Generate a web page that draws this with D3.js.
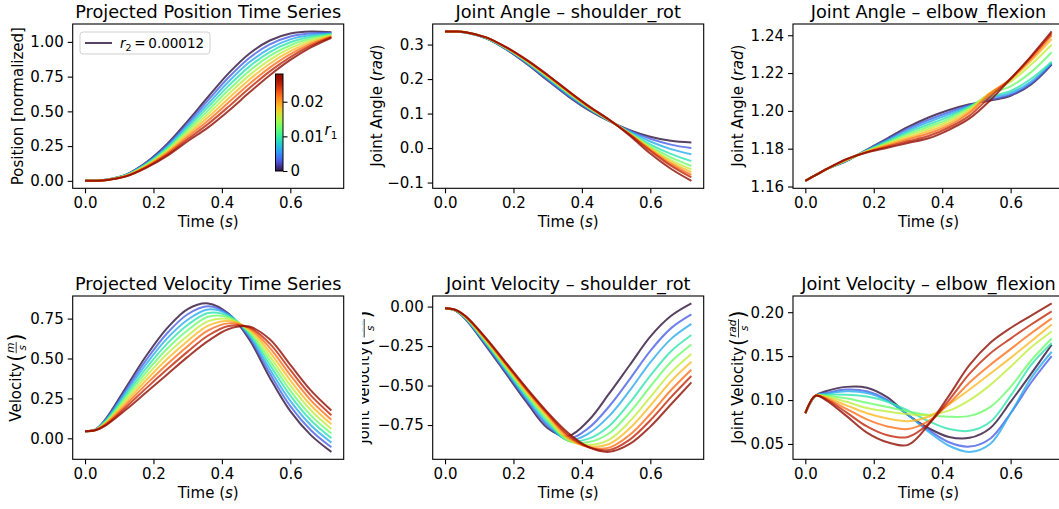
<!DOCTYPE html>
<html><head><meta charset="utf-8">
<script src="https://cdn.jsdelivr.net/npm/d3@7"></script>
<style>body{margin:0;background:#fff}svg{display:block;font-family:"DejaVu Sans",sans-serif}</style>
</head><body><svg id="c" width="1059" height="509"></svg>
<script>
// ---------------- data ----------------
const time = [0, 0.03, 0.06, 0.12, 0.18, 0.24, 0.30, 0.36, 0.42, 0.48, 0.54, 0.60, 0.66, 0.72];
const r1Values = [0, 0.00311, 0.00622, 0.00933, 0.01244, 0.01556, 0.01867, 0.02178, 0.02489, 0.028];
const r2Value = "0.00012";

const positionSeries = [
  [0,0.001,0.007,0.045,0.135,0.265,0.430,0.605,0.775,0.915,1.010,1.060,1.075,1.070],
  [0,0.001,0.007,0.044,0.131,0.256,0.414,0.581,0.745,0.884,0.982,1.039,1.062,1.066],
  [0,0.001,0.007,0.042,0.126,0.246,0.398,0.556,0.715,0.853,0.954,1.018,1.049,1.061],
  [0,0.001,0.006,0.041,0.122,0.237,0.382,0.532,0.685,0.822,0.927,0.997,1.037,1.057],
  [0,0.001,0.006,0.039,0.117,0.227,0.366,0.507,0.655,0.791,0.899,0.976,1.024,1.052],
  [0,0.001,0.006,0.038,0.113,0.218,0.349,0.483,0.625,0.759,0.871,0.955,1.011,1.048],
  [0,0.001,0.006,0.036,0.108,0.208,0.333,0.459,0.595,0.728,0.843,0.933,0.998,1.043],
  [0,0.001,0.005,0.035,0.104,0.199,0.317,0.434,0.565,0.697,0.815,0.912,0.985,1.039],
  [0,0.001,0.005,0.033,0.099,0.189,0.301,0.410,0.535,0.666,0.788,0.891,0.973,1.034],
  [0,0.001,0.005,0.032,0.095,0.180,0.285,0.385,0.505,0.635,0.760,0.870,0.960,1.030]
];
const shoulderAngleSeries = [
  [0.338,0.338,0.335,0.318,0.285,0.243,0.196,0.150,0.110,0.078,0.052,0.033,0.021,0.016],
  [0.338,0.338,0.335,0.318,0.286,0.245,0.198,0.152,0.112,0.079,0.050,0.027,0.010,0.000],
  [0.338,0.338,0.335,0.319,0.287,0.247,0.201,0.155,0.114,0.079,0.048,0.019,-0.003,-0.018],
  [0.338,0.338,0.335,0.319,0.288,0.249,0.204,0.158,0.116,0.080,0.045,0.011,-0.017,-0.038],
  [0.338,0.338,0.336,0.320,0.289,0.250,0.206,0.160,0.117,0.080,0.043,0.005,-0.027,-0.052],
  [0.338,0.338,0.336,0.320,0.290,0.251,0.207,0.161,0.118,0.081,0.042,0.001,-0.035,-0.062],
  [0.338,0.338,0.336,0.320,0.290,0.252,0.208,0.162,0.119,0.081,0.041,-0.002,-0.041,-0.070],
  [0.338,0.338,0.336,0.321,0.291,0.253,0.210,0.164,0.120,0.081,0.040,-0.005,-0.046,-0.078],
  [0.338,0.338,0.336,0.321,0.291,0.254,0.211,0.165,0.121,0.082,0.039,-0.008,-0.051,-0.085],
  [0.338,0.338,0.336,0.321,0.292,0.255,0.212,0.166,0.122,0.082,0.036,-0.016,-0.060,-0.095]
];
const elbowAngleSeries = [
  [1.163,1.166,1.169,1.1735,1.1795,1.1855,1.1915,1.1965,1.2005,1.2035,1.2055,1.208,1.214,1.2245],
  [1.163,1.166,1.169,1.1736,1.1793,1.1849,1.1906,1.1953,1.1993,1.2030,1.2060,1.2085,1.2145,1.225],
  [1.163,1.166,1.169,1.1737,1.1792,1.1844,1.1896,1.1941,1.1982,1.2025,1.2068,1.2095,1.2155,1.2255],
  [1.163,1.166,1.169,1.1738,1.1790,1.1838,1.1887,1.1928,1.1970,1.2022,1.2075,1.2105,1.217,1.226],
  [1.163,1.166,1.169,1.1739,1.1788,1.1833,1.1877,1.1916,1.1958,1.2018,1.2090,1.2130,1.2205,1.231],
  [1.163,1.166,1.169,1.1740,1.1787,1.1827,1.1868,1.1904,1.1947,1.2010,1.2095,1.2155,1.2245,1.235],
  [1.163,1.166,1.169,1.1741,1.1785,1.1822,1.1858,1.1892,1.1935,1.2000,1.2095,1.2165,1.2265,1.238],
  [1.163,1.166,1.169,1.1742,1.1783,1.1816,1.1849,1.1880,1.1923,1.1990,1.2090,1.2170,1.2275,1.240],
  [1.163,1.166,1.169,1.1744,1.1782,1.1811,1.1839,1.1867,1.1912,1.1975,1.2075,1.2170,1.2285,1.241],
  [1.163,1.166,1.169,1.1745,1.1780,1.1805,1.1830,1.1855,1.1900,1.1960,1.2055,1.2170,1.229,1.242]
];
const velocitySeries = [
  [0.045,0.055,0.120,0.320,0.520,0.690,0.810,0.845,0.780,0.620,0.380,0.170,0.020,-0.085],
  [0.045,0.054,0.116,0.304,0.494,0.658,0.777,0.827,0.777,0.633,0.407,0.202,0.051,-0.056],
  [0.045,0.054,0.111,0.289,0.469,0.626,0.743,0.807,0.773,0.645,0.433,0.234,0.082,-0.027],
  [0.045,0.053,0.107,0.273,0.443,0.593,0.710,0.785,0.766,0.656,0.460,0.267,0.113,0.001],
  [0.045,0.053,0.102,0.258,0.418,0.561,0.677,0.761,0.758,0.666,0.487,0.299,0.144,0.030],
  [0.045,0.052,0.098,0.242,0.392,0.529,0.643,0.734,0.747,0.674,0.513,0.331,0.176,0.059],
  [0.045,0.052,0.093,0.227,0.367,0.497,0.610,0.706,0.735,0.682,0.540,0.363,0.207,0.088],
  [0.045,0.051,0.089,0.211,0.341,0.464,0.577,0.676,0.720,0.689,0.567,0.396,0.238,0.117],
  [0.045,0.051,0.084,0.196,0.316,0.432,0.543,0.644,0.704,0.695,0.593,0.428,0.269,0.145],
  [0.045,0.050,0.080,0.180,0.290,0.400,0.510,0.610,0.685,0.700,0.620,0.460,0.300,0.174]
];
const shoulderVelSeries = [
  [-0.01,-0.025,-0.080,-0.250,-0.430,-0.610,-0.770,-0.820,-0.720,-0.550,-0.370,-0.190,-0.060,0.020],
  [-0.01,-0.024,-0.077,-0.243,-0.420,-0.597,-0.756,-0.836,-0.768,-0.631,-0.459,-0.280,-0.138,-0.050],
  [-0.01,-0.024,-0.075,-0.237,-0.412,-0.587,-0.744,-0.846,-0.803,-0.692,-0.531,-0.353,-0.206,-0.110],
  [-0.01,-0.023,-0.072,-0.230,-0.402,-0.574,-0.730,-0.850,-0.836,-0.756,-0.608,-0.437,-0.284,-0.180],
  [-0.01,-0.022,-0.070,-0.224,-0.394,-0.563,-0.718,-0.850,-0.858,-0.802,-0.670,-0.506,-0.351,-0.240],
  [-0.01,-0.022,-0.067,-0.218,-0.385,-0.552,-0.706,-0.844,-0.875,-0.842,-0.727,-0.573,-0.418,-0.300],
  [-0.01,-0.021,-0.065,-0.213,-0.378,-0.543,-0.696,-0.836,-0.885,-0.870,-0.771,-0.627,-0.474,-0.350],
  [-0.01,-0.021,-0.063,-0.208,-0.371,-0.534,-0.686,-0.825,-0.890,-0.893,-0.812,-0.680,-0.530,-0.400],
  [-0.01,-0.020,-0.062,-0.204,-0.366,-0.527,-0.678,-0.814,-0.891,-0.908,-0.842,-0.720,-0.575,-0.440],
  [-0.01,-0.020,-0.060,-0.200,-0.360,-0.520,-0.670,-0.800,-0.890,-0.920,-0.870,-0.760,-0.620,-0.480]
];
const elbowVelSeries = [
  [0.085,0.105,0.110,0.115,0.114,0.103,0.083,0.068,0.058,0.057,0.068,0.098,0.130,0.163],
  [0.085,0.105,0.108,0.112,0.110,0.100,0.083,0.066,0.052,0.047,0.056,0.085,0.120,0.150],
  [0.085,0.105,0.107,0.110,0.108,0.099,0.083,0.064,0.048,0.041,0.050,0.085,0.125,0.155],
  [0.085,0.105,0.106,0.106,0.104,0.098,0.088,0.076,0.067,0.065,0.075,0.105,0.140,0.165],
  [0.085,0.105,0.105,0.102,0.097,0.092,0.087,0.083,0.081,0.082,0.092,0.115,0.145,0.170],
  [0.085,0.105,0.104,0.098,0.091,0.087,0.084,0.083,0.088,0.100,0.117,0.138,0.160,0.178],
  [0.085,0.105,0.103,0.094,0.085,0.079,0.076,0.081,0.095,0.112,0.130,0.148,0.167,0.186],
  [0.085,0.105,0.102,0.090,0.078,0.070,0.067,0.076,0.096,0.120,0.140,0.158,0.176,0.193],
  [0.085,0.105,0.101,0.086,0.070,0.060,0.058,0.073,0.100,0.130,0.153,0.170,0.186,0.201],
  [0.085,0.105,0.100,0.082,0.063,0.052,0.049,0.072,0.105,0.140,0.165,0.182,0.196,0.210]
];

const xTicks = [0, 0.2, 0.4, 0.6];
const positionTicks = [0, 0.25, 0.5, 0.75, 1.0];
const shoulderAngleTicks = [-0.1, 0, 0.1, 0.2, 0.3];
const elbowAngleTicks = [1.16, 1.18, 1.20, 1.22, 1.24];
const velocityTicks = [0, 0.25, 0.5, 0.75];
const shoulderVelTicks = [-0.75, -0.5, -0.25, 0];
const elbowVelTicks = [0.05, 0.10, 0.15, 0.20];
const colorbarTicks = [0, 0.01, 0.02];

// ---------------- drawing ----------------
const svg = d3.select("#c");
svg.append("rect").attr("width",1059).attr("height",509).attr("fill","#fff");
const defs = svg.append("defs");
const FS = 15, TFS = 17.7, W = 271;

function turboMpl(t){
  const c0 = 0.08;
  if (t < c0) return d3.interpolateRgb("#30123b", d3.interpolateTurbo(c0))(t/c0);
  return d3.interpolateTurbo(t);
}
const r1Max = d3.max(r1Values);
const color = d3.scaleSequential(turboMpl).domain([0, r1Max]);

const panels = [
  {left:72.7, top:24, h:164.3, series:positionSeries, ticks:positionTicks, fmt:".2f",
   title:"Projected Position Time Series", ylab:{text:"Position [normalized]"}, ylx:18},
  {left:432.7, top:24, h:164.3, series:shoulderAngleSeries, ticks:shoulderAngleTicks, fmt:".1f",
   title:"Joint Angle \u2013 shoulder_rot", ylab:{text:"Joint Angle (", italic:"rad"}, ylx:376.7},
  {left:793, top:24, h:164.3, series:elbowAngleSeries, ticks:elbowAngleTicks, fmt:".2f",
   title:"Joint Angle \u2013 elbow_flexion", ylab:{text:"Joint Angle (", italic:"rad"}, ylx:738.3},
  {left:72.7, top:296, h:163.3, series:velocitySeries, ticks:velocityTicks, fmt:".2f",
   title:"Projected Velocity Time Series", ylab:{text:"Velocity ", frac:["m","s"]}, ylx:16},
  {left:432.7, top:296, h:163.3, series:shoulderVelSeries, ticks:shoulderVelTicks, fmt:".2f",
   title:"Joint Velocity \u2013 shoulder_rot", ylab:{text:"Joint Velocity ", frac:["rad","s"]}, ylx:364, clipX:362},
  {left:793, top:296, h:163.3, series:elbowVelSeries, ticks:elbowVelTicks, fmt:".2f",
   title:"Joint Velocity \u2013 elbow_flexion", ylab:{text:"Joint Velocity ", frac:["rad","s"]}, ylx:738.3}
];

function addYLabel(cx, cy, spec, clipX){
  const outer = svg.append("g");
  if (clipX !== undefined){
    const id = "ylclip" + Math.round(cx);
    defs.append("clipPath").attr("id", id).append("rect")
      .attr("x", clipX).attr("y", 0).attr("width", 2000).attr("height", 600);
    outer.attr("clip-path", `url(#${id})`);
  }
  const g = outer.append("g");
  const t = g.append("text").attr("font-size", FS).attr("fill","#000");
  t.append("tspan").text(spec.text);
  if (spec.italic){
    t.append("tspan").attr("font-style","italic").text(spec.italic);
    t.append("tspan").text(")");
  }
  if (spec.frac){
    let u = t.node().getComputedTextLength() + 1;
    const lp = g.append("text").attr("font-size", 20.5).attr("x", u).attr("y", 2.5).attr("fill","#000").text("(");
    u += lp.node().getComputedTextLength() + 0.5;
    const num = g.append("text").attr("font-size", 10.5).attr("font-style","italic").attr("y", -6.5).attr("fill","#000").text(spec.frac[0]);
    const den = g.append("text").attr("font-size", 10.5).attr("font-style","italic").attr("y", 5).attr("fill","#000").text(spec.frac[1]);
    const nw = num.node().getComputedTextLength(), dw = den.node().getComputedTextLength();
    const fw = Math.max(nw, dw) + 1;
    num.attr("x", u + (fw - nw)/2);
    den.attr("x", u + (fw - dw)/2);
    g.append("line").attr("x1", u).attr("x2", u + fw).attr("y1", -4.3).attr("y2", -4.3)
      .attr("stroke","#000").attr("stroke-width",0.8);
    u += fw + 0.5;
    g.append("text").attr("font-size", 20.5).attr("x", u).attr("y", 2.5).attr("fill","#000").text(")");
  }
  const bb = g.node().getBBox();
  g.attr("transform", `translate(${cx},${cy}) rotate(-90) translate(${-(bb.x + bb.width/2)},${-(bb.y + bb.height/2)})`);
}

const xExt = d3.extent(time);
const xPad = (xExt[1] - xExt[0]) * 0.05;

panels.forEach((p, pi) => {
  const x = d3.scaleLinear().domain([xExt[0] - xPad, xExt[1] + xPad]).range([0, W]);
  const all = p.series.flat();
  const lo = d3.min(all), hi = d3.max(all), pad = (hi - lo) * 0.05;
  const y = d3.scaleLinear().domain([lo - pad, hi + pad]).range([p.h, 0]);

  const g = svg.append("g").attr("transform", `translate(${p.left},${p.top})`);
  const cid = "clip" + pi;
  defs.append("clipPath").attr("id", cid).append("rect").attr("width", W).attr("height", p.h);

  const line = d3.line().x((d, i) => x(time[i])).y(d => y(d)).curve(d3.curveCatmullRom.alpha(0.5));
  g.append("g").attr("clip-path", `url(#${cid})`)
    .selectAll("path").data(p.series).join("path")
    .attr("d", line)
    .attr("fill", "none")
    .attr("stroke", (d, i) => color(r1Values[i]))
    .attr("stroke-opacity", 0.8)
    .attr("stroke-width", 2)
    .attr("stroke-linejoin","round").attr("stroke-linecap","butt");

  const xa = g.append("g").attr("transform", `translate(0,${p.h})`)
    .call(d3.axisBottom(x).tickValues(xTicks).tickFormat(d3.format(".1f")).tickSize(5).tickPadding(4).tickSizeOuter(0));
  const ya = g.append("g")
    .call(d3.axisLeft(y).tickValues(p.ticks).tickFormat(d3.format(p.fmt)).tickSize(5).tickPadding(4).tickSizeOuter(0));
  [xa, ya].forEach(a => {
    a.select(".domain").remove();
    a.selectAll("line").attr("stroke","#000").attr("stroke-width",1.1);
    a.selectAll("text").attr("font-size", FS).attr("font-family",'"DejaVu Sans",sans-serif').attr("fill","#000");
  });

  g.append("rect").attr("width", W).attr("height", p.h).attr("fill","none")
    .attr("stroke","#000").attr("stroke-width",1.1);

  svg.append("text").attr("x", p.left + W/2).attr("y", p.top - 6.5)
    .attr("text-anchor","middle").attr("font-size", TFS).attr("fill","#000").text(p.title);

  const xl = svg.append("text").attr("x", p.left + W/2).attr("y", p.top + p.h + 38.5)
    .attr("text-anchor","middle").attr("font-size", FS).attr("fill","#000");
  xl.append("tspan").text("Time (");
  xl.append("tspan").attr("font-style","italic").text("s");
  xl.append("tspan").text(")");

  addYLabel(p.ylx, p.top + p.h/2, p.ylab, p.clipX);
});

// legend (panel 1)
const lg = svg.append("g");
lg.append("rect").attr("x",80).attr("y",32).attr("width",130).attr("height",22).attr("rx",3)
  .attr("fill","#fff").attr("fill-opacity",0.8).attr("stroke","#d0d0d0").attr("stroke-width",1);
lg.append("line").attr("x1",85).attr("x2",112).attr("y1",43).attr("y2",43)
  .attr("stroke", color(r1Values[0])).attr("stroke-opacity",0.8).attr("stroke-width",2);
const lt = lg.append("text").attr("x",120).attr("y",47.5).attr("font-size",13.5).attr("fill","#000");
lt.append("tspan").attr("font-style","italic").text("r");
lt.append("tspan").attr("font-size",9.5).attr("dy",3).text("2");
lt.append("tspan").attr("dy",-3).text("\u2009=\u2009" + r2Value);

// colorbar
const cb = {x:275.5, y:74, w:7.5, h:97};
const grad = defs.append("linearGradient").attr("id","cbgrad").attr("x1",0).attr("x2",0).attr("y1",1).attr("y2",0);
d3.range(0, 1.0001, 0.05).forEach(s => {
  grad.append("stop").attr("offset", s).attr("stop-color", color(s * r1Max));
});
svg.append("rect").attr("x",cb.x).attr("y",cb.y).attr("width",cb.w).attr("height",cb.h)
  .attr("fill","url(#cbgrad)").attr("stroke","#000").attr("stroke-width",1);
const cy = d3.scaleLinear().domain([0, r1Max]).range([cb.y + cb.h, cb.y]);
const cba = svg.append("g").attr("transform", `translate(${cb.x + cb.w},0)`)
  .call(d3.axisRight(cy).tickValues(colorbarTicks).tickFormat(d => d === 0 ? "0" : d3.format(".2f")(d))
    .tickSize(4.5).tickPadding(3).tickSizeOuter(0));
cba.select(".domain").remove();
cba.selectAll("line").attr("stroke","#000").attr("stroke-width",1.1);
cba.selectAll("text").attr("font-size", FS).attr("font-family",'"DejaVu Sans",sans-serif').attr("fill","#000");
const rl = svg.append("text").attr("x",324.5).attr("y",135).attr("font-size",FS).attr("fill","#000");
rl.append("tspan").attr("font-style","italic").text("r");
rl.append("tspan").attr("font-size",10.5).attr("dy",3.5).text("1");
</script></body></html>
